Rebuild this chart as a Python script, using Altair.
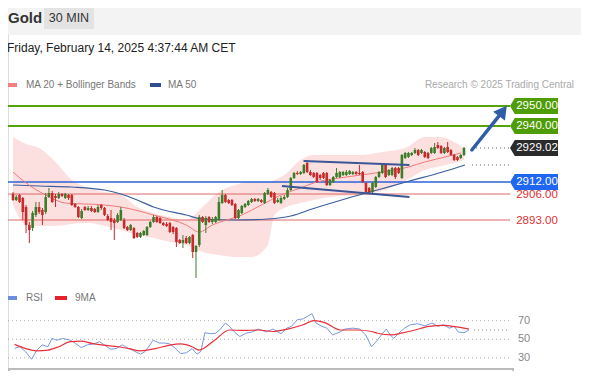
import altair as alt
import pandas as pd

FONT = "Liberation Sans"

# ---------------- candle data (30 min, Gold) ----------------
opens = [2906, 2903, 2905.5, 2904, 2899.5, 2890.5, 2889, 2895.5, 2899.5, 2898,
         2897, 2904.5, 2906.5, 2905, 2904, 2906, 2904, 2905.5, 2905.5, 2901,
         2899.5, 2894, 2899.5, 2898, 2899, 2898.5, 2897, 2900.5, 2899, 2895,
         2894, 2893, 2892, 2893, 2893, 2889.5, 2888, 2889, 2886.5, 2884.5,
         2885.5, 2885.5, 2889.5, 2892, 2894.5, 2894, 2891.5, 2891, 2891.5, 2889.5,
         2889, 2883, 2881.5, 2884, 2881.5, 2885.5, 2877, 2880.5, 2894.5, 2890.5,
         2894.5, 2892, 2892, 2893, 2901.5, 2905.5, 2903, 2903, 2901, 2894,
         2896.5, 2899.5, 2900.5, 2902, 2903.5, 2902.5, 2903, 2901.5, 2906, 2907,
         2906.5, 2902, 2901.5, 2903.5, 2904.5, 2908, 2914, 2916.5, 2916, 2916.5,
         2921.5, 2917, 2916.5, 2916.5, 2915.5, 2916.5, 2916.5, 2910.5, 2912, 2914.5,
         2914.5, 2915.5, 2915.5, 2916, 2916, 2917, 2916.5, 2917, 2911.5, 2909,
         2907, 2909.5, 2914.5, 2916.5, 2920.5, 2915.5, 2915.5, 2919, 2919, 2914,
         2924, 2924.5, 2925.5, 2926.5, 2928, 2926.5, 2927, 2926.5, 2926.5, 2926.5,
         2930.5, 2930, 2926.5, 2929.5, 2928, 2925.5, 2924.5, 2924, 2925.5]
closes = [2903, 2904.5, 2902, 2897, 2890.5, 2888, 2896.5, 2899.5, 2897, 2895.5,
          2904.5, 2906.5, 2902, 2904, 2906, 2905, 2906, 2904, 2900.5, 2899.5,
          2894.5, 2897.5, 2898, 2899, 2897.5, 2897, 2899.5, 2899, 2895.5, 2893,
          2892, 2891.5, 2895.5, 2898, 2889, 2888, 2890.5, 2884, 2884.5, 2886.5,
          2887.5, 2889.5, 2892, 2894.5, 2892, 2891.5, 2890.5, 2890, 2887, 2887,
          2882, 2881.5, 2883, 2881.5, 2884.5, 2877, 2880, 2894.5, 2892, 2894,
          2892, 2893.5, 2894.5, 2902, 2905.5, 2902, 2901.5, 2900.5, 2894, 2898,
          2900, 2901, 2902.5, 2903.5, 2902.5, 2903.5, 2902, 2906.5, 2908, 2904.5,
          2901.5, 2903, 2904, 2904.5, 2908, 2914, 2916.5, 2916, 2917, 2920.5,
          2917, 2915.5, 2914.5, 2912, 2914, 2914, 2910.5, 2913, 2914.5, 2916.5,
          2917, 2917, 2917, 2917.5, 2917, 2916, 2916, 2912, 2907, 2907,
          2911.5, 2914.5, 2917, 2920.5, 2914.5, 2918, 2919, 2914.5, 2916.5, 2925.5,
          2926.5, 2926.5, 2926.5, 2928, 2925.5, 2928, 2924.5, 2924, 2929, 2929.5,
          2929, 2926.5, 2929, 2927, 2925.5, 2923, 2923, 2925.5, 2929.02]
highs = [2907, 2905.5, 2906, 2904.5, 2900.5, 2892, 2897.5, 2902, 2902, 2899,
         2906.5, 2909, 2907.5, 2906, 2907, 2906.5, 2906.5, 2906, 2906, 2901.5,
         2900, 2898.5, 2900, 2900, 2900, 2899, 2900.5, 2901, 2899.5, 2896,
         2898, 2894, 2896.5, 2899.5, 2894, 2890, 2891, 2889.5, 2887, 2887,
         2888, 2890, 2892.5, 2895.5, 2895, 2894.5, 2892, 2892, 2892, 2890,
         2889.5, 2883.5, 2885.5, 2885, 2885, 2886, 2880.5, 2895.5, 2895, 2895,
         2895, 2894.5, 2895, 2904.5, 2908, 2906, 2903.5, 2903.5, 2901.5, 2898.5,
         2900.5, 2901.5, 2903, 2904, 2904, 2904, 2903.5, 2907, 2909, 2907.5,
         2907, 2904, 2905, 2905.5, 2909, 2914.5, 2917, 2917.5, 2917.5, 2921,
         2923, 2918, 2917, 2917, 2916, 2917, 2917, 2913.5, 2915, 2919,
         2917.5, 2917.5, 2918, 2918, 2917.5, 2917.5, 2920.5, 2917.5, 2912, 2909.5,
         2912, 2915, 2917.5, 2921.5, 2921, 2918.5, 2919.5, 2919.5, 2919.5, 2926,
         2927, 2927, 2927, 2929, 2928.5, 2928.5, 2927.5, 2927, 2929.5, 2931.5,
         2932, 2930.5, 2929.5, 2932, 2928.5, 2926, 2925, 2926, 2929.5]
lows = [2902.5, 2902.5, 2901.5, 2893, 2886.5, 2881.5, 2887.5, 2894.5, 2896, 2890.5,
        2896, 2904, 2901.5, 2899.5, 2903.5, 2904.5, 2903.5, 2903, 2900, 2899,
        2894, 2893.5, 2897.5, 2897.5, 2897, 2896.5, 2896.5, 2898, 2895, 2892.5,
        2888, 2883, 2891.5, 2892.5, 2888.5, 2887.5, 2887.5, 2883.5, 2884, 2884,
        2885, 2885, 2889, 2891.5, 2891.5, 2891, 2890, 2889.5, 2886.5, 2886,
        2879.5, 2881, 2879, 2881, 2881, 2874, 2864, 2879.5, 2891.5, 2886.5,
        2891.5, 2891, 2891.5, 2892.5, 2901, 2901.5, 2901, 2900, 2893.5, 2893.5,
        2896, 2899, 2900, 2901.5, 2902, 2902, 2901.5, 2901, 2905.5, 2904,
        2901, 2901.5, 2901, 2903, 2904, 2907.5, 2913.5, 2915.5, 2915.5, 2916,
        2916.5, 2915, 2914, 2911.5, 2913, 2913.5, 2910, 2910, 2911.5, 2914,
        2914, 2915, 2915, 2915.5, 2915.5, 2915.5, 2915.5, 2911.5, 2906.5, 2906,
        2906.5, 2909, 2914, 2916, 2914, 2915, 2915, 2913.5, 2916, 2913.5,
        2923.5, 2924, 2925, 2926, 2925, 2926, 2924, 2923.5, 2926, 2926,
        2928.5, 2926, 2926, 2926.5, 2925, 2922.5, 2922.5, 2923.5, 2925]

# ---------------- indicators ----------------
band_idx = [0, 4, 8, 13, 18, 23, 28, 33, 38, 43, 48, 53, 58, 63, 68, 73, 78, 80, 83,
            88, 92, 97, 100, 106, 113, 120, 126, 131, 135, 138]
band_upper = [2934.5, 2931, 2929, 2922, 2913, 2909, 2907, 2905.5, 2899.5, 2896.5,
              2894.5, 2893, 2899.5, 2907, 2910.5, 2912, 2912, 2913, 2915.5, 2923,
              2925.5, 2925.5, 2925.5, 2925.5, 2927, 2929, 2934.5, 2934.5, 2932, 2929]
band_lower = [2900.5, 2890.5, 2890, 2890, 2891, 2891.5, 2890, 2888, 2885.5, 2884,
              2882, 2880.5, 2877, 2875.5, 2874.5, 2874.5, 2880.5, 2895.5, 2899, 2901.5,
              2903, 2904.5, 2905, 2905.5, 2907.5, 2912.5, 2918, 2920, 2921.5, 2923]

ma20_idx = [0, 4, 10, 16, 28, 33, 43, 53, 57, 61, 70, 76, 82, 88, 92, 102, 111, 121, 126, 131, 137]
ma20_val = [2917, 2911.5, 2905.5, 2901.5, 2900.5, 2899.5, 2895.5, 2890.5, 2887, 2890.5,
            2895.5, 2900.5, 2905.5, 2909, 2911.5, 2914.5, 2916.5, 2919.5, 2922, 2924, 2926.5]

ma50_idx = [0, 8, 18, 28, 33, 38, 43, 53, 58, 68, 78, 85, 91.5, 101.6, 111.5, 121.3, 131.4, 138.3]
ma50_val = [2910.5, 2910, 2909.5, 2908, 2906, 2903, 2899.5, 2895.5, 2893.5, 2893,
            2893.5, 2895, 2898.5, 2903.5, 2908, 2912.5, 2917, 2920.5]

rsi_idx = [0.5, 2.1, 3.9, 5.7, 7.2, 8.9, 10.7, 11.9, 13.4, 15.2,
           17.6, 19.1, 20.9, 22.7, 24.7, 26.5, 28.3, 29.8, 31.6, 33.4,
           34.9, 37.3, 39, 40.5, 42.9, 44.7, 46.2, 48, 49.8, 51.3,
           53.1, 54.8, 56.3, 57.5, 58.7, 60.5, 62, 63.2, 65, 66.2,
           67.7, 69.4, 71.2, 73.3, 75.1, 77.5, 79.6, 82, 83.8, 85.2,
           87, 88.8, 90.3, 91.5, 92.7, 94.5, 96, 97.8, 100.1, 101.6,
           104, 106.1, 107.9, 109.7, 111.5, 113, 114.2, 115.4, 116.5, 118,
           119.8, 121.6, 123.7, 126.1, 128.2, 130, 131.7, 133.5, 135, 136.2,
           138, 139.5]
rsi_val = [40.2, 42, 36.5, 28.5, 38, 44, 42, 51, 49, 51,
           49, 45.6, 41, 44, 45, 47.5, 43, 39.5, 40, 44,
           41, 37, 34, 37, 49, 46, 46, 45, 40, 34.7,
           35.5, 40, 34, 37, 57, 56, 56.5, 60, 67.5, 64,
           58, 53, 56.5, 58, 61, 58, 61, 56, 62, 64,
           71, 72, 75, 77.6, 67.5, 64, 62, 54.7, 58, 61,
           62, 61, 54.7, 42, 49, 56, 61, 54.7, 51, 56.5,
           62, 65.6, 66.7, 64.5, 67.5, 64, 65.6, 62, 64, 58,
           57, 60]
ma9_idx = [0.5, 3.9, 7.2, 10.7, 14, 17.6, 20.9, 24.1, 27.7, 32.2,
           35.5, 39, 43.5, 48, 51.3, 54.8, 56.9, 61.7, 66.2, 70.6,
           75.1, 79.6, 84, 88.8, 92.1, 95.4, 100.1, 105.5, 109.7, 111.5,
           115.9, 119.2, 122.5, 127.3, 131.7, 136.2, 139.5]
ma9_val = [44.5, 40, 37.6, 38.4, 42, 47.5, 48, 45.6, 43.8, 42,
           40, 37.6, 40, 43.8, 45, 42, 38.4, 49, 60, 59.5,
           60, 58.4, 61, 65.6, 70, 68, 60, 60, 58.4, 56.5,
           54.7, 57, 59.5, 63.8, 65, 63, 61]

# key levels
res_levels = [2950.00, 2940.00]
last_price = 2929.02
ma50_last = 2920.5
pivot_level = 2912.00
sup_levels = [2906.00, 2893.00]
rsi_levels = [70, 50, 30]
rsi_last = 60

# channel trend lines (idx, price)
chan_top = [(88.9, 2922.5), (121.3, 2920.5)]
chan_bot = [(82.3, 2910.0), (121.3, 2904.5)]
arrow_pts = [(140.4, 2928.0), (148.6, 2944.8)]
arrow_head = (149.9, 2947.5)

day_labels = ["Feb 12", "Feb 13", "Feb 14"]
day_label_x = [86, 260, 435]

# ---------------- scales ----------------
XS = alt.Scale(domain=[0, 138], range=[0, 461])
PY = alt.Scale(domain=[2860, 2960], range=[278, 78])
RY = alt.Scale(domain=[20, 80], range=[359.2, 303.4])

GREEN_C = "#3b7d2a"
RED_C = "#c62a2a"

candles = pd.DataFrame({"i": list(range(len(opens))), "o": opens, "h": highs, "l": lows, "c": closes})
candles["dir"] = ["up" if c >= o else "down" for o, c in zip(opens, closes)]
cscale = alt.Scale(domain=["up", "down"], range=[GREEN_C, RED_C])

one = pd.DataFrame({"a": [0]})


def txt(s, x, y, size, color, weight="normal", align="left", baseline="middle"):
    return alt.Chart(one).mark_text(text=s, align=align, baseline=baseline, fontSize=size,
                                    color=color, fontWeight=weight, font=FONT).encode(
        x=alt.value(x), y=alt.value(y))


def rect(x0, x1, y0, y1, color):
    return alt.Chart(one).mark_rect(color=color).encode(
        x=alt.value(x0), x2=alt.value(x1), y=alt.value(y0), y2=alt.value(y1))


layers = []

# header
layers.append(rect(0, 573, 0, 27, "#f3f3f3"))
layers.append(rect(36, 86, 0, 21, "#e3e3e3"))
layers.append(txt("Gold", 0, 10, 15, "#333333", weight="bold"))
layers.append(txt("30 MIN", 61, 10, 12.5, "#333333", align="center"))
layers.append(txt("Friday, February 14, 2025 4:37:44 AM CET", -1, 40, 12, "#222222"))

# legend (price)
layers.append(rect(0, 9, 75, 79, "#f28080"))
layers.append(txt("MA 20 + Bollinger Bands", 18, 77, 10, "#777777"))
layers.append(rect(142, 153, 75, 79, "#2f4f8f"))
layers.append(txt("MA 50", 160, 77, 10, "#777777"))
layers.append(txt("Research © 2025 Trading Central", 566, 77, 10, "#aaaaaa", align="right"))

# Bollinger band area
band_df = pd.DataFrame({"i": band_idx, "u": band_upper, "lo": band_lower})
layers.append(alt.Chart(band_df).mark_area(color="#f9c6c6", opacity=0.55, interpolate="monotone").encode(
    x=alt.X("i:Q", scale=XS, axis=None), y=alt.Y("u:Q", scale=PY, axis=None), y2="lo:Q"))

# level lines
lev_df = pd.DataFrame({"p": res_levels})
layers.append(alt.Chart(lev_df).mark_rule(color="#55a20f", strokeWidth=2).encode(
    y=alt.Y("p:Q", scale=PY, axis=None), x=alt.value(0), x2=alt.value(502)))
layers.append(alt.Chart(pd.DataFrame({"p": [pivot_level]})).mark_rule(color="#2a62d9", strokeWidth=1.5).encode(
    y=alt.Y("p:Q", scale=PY, axis=None), x=alt.value(0), x2=alt.value(502)))
layers.append(alt.Chart(pd.DataFrame({"p": sup_levels})).mark_rule(color="#e06666", strokeWidth=1).encode(
    y=alt.Y("p:Q", scale=PY, axis=None), x=alt.value(0), x2=alt.value(502)))
layers.append(alt.Chart(pd.DataFrame({"p": [last_price, ma50_last]})).mark_rule(
    color="#666666", strokeWidth=1, strokeDash=[1, 3]).encode(
    y=alt.Y("p:Q", scale=PY, axis=None), x=alt.value(464), x2=alt.value(502)))

# moving averages
layers.append(alt.Chart(pd.DataFrame({"i": ma50_idx, "v": ma50_val})).mark_line(
    color="#3d5f9e", strokeWidth=1.2, interpolate="monotone").encode(
    x=alt.X("i:Q", scale=XS, axis=None), y=alt.Y("v:Q", scale=PY, axis=None)))
layers.append(alt.Chart(pd.DataFrame({"i": ma20_idx, "v": ma20_val})).mark_line(
    color="#f07a7a", strokeWidth=1, interpolate="monotone").encode(
    x=alt.X("i:Q", scale=XS, axis=None), y=alt.Y("v:Q", scale=PY, axis=None)))

# candles
layers.append(alt.Chart(candles).mark_rule(strokeWidth=1).encode(
    x=alt.X("i:Q", scale=XS, axis=None), y=alt.Y("l:Q", scale=PY, axis=None), y2="h:Q",
    color=alt.Color("dir:N", scale=cscale, legend=None)))
layers.append(alt.Chart(candles).mark_bar(size=2.6).encode(
    x=alt.X("i:Q", scale=XS, axis=None), y=alt.Y("o:Q", scale=PY, axis=None), y2="c:Q",
    color=alt.Color("dir:N", scale=cscale, legend=None)))

# channel lines
chan_df = pd.DataFrame({"i": [p[0] for p in chan_top] + [p[0] for p in chan_bot],
                        "p": [p[1] for p in chan_top] + [p[1] for p in chan_bot],
                        "g": ["top", "top", "bot", "bot"]})
layers.append(alt.Chart(chan_df).mark_line(color="#3a5696", strokeWidth=2.2).encode(
    x=alt.X("i:Q", scale=XS, axis=None), y=alt.Y("p:Q", scale=PY, axis=None), detail="g:N"))

# arrow
arr_df = pd.DataFrame({"i": [p[0] for p in arrow_pts], "p": [p[1] for p in arrow_pts]})
layers.append(alt.Chart(arr_df).mark_line(color="#2f5ea8", strokeWidth=3.5, strokeCap="round").encode(
    x=alt.X("i:Q", scale=XS, axis=None), y=alt.Y("p:Q", scale=PY, axis=None)))
layers.append(alt.Chart(pd.DataFrame({"i": [arrow_head[0]], "p": [arrow_head[1]]})).mark_point(
    shape="triangle-up", filled=True, size=220, angle=37, color="#2f5ea8", opacity=1).encode(
    x=alt.X("i:Q", scale=XS, axis=None), y=alt.Y("p:Q", scale=PY, axis=None)))

# price labels
TAG = "M-1,0L-0.8,-0.33L1,-0.33L1,0.33L-0.8,0.33Z"
tags = [(res_levels[0], "#4e9c06"), (res_levels[1], "#4e9c06"), (last_price, "#2b2b2b"), (pivot_level, "#1f66f0")]
for price, col in tags:
    d = pd.DataFrame({"p": [price], "t": [f"{price:.2f}"]})
    layers.append(alt.Chart(d).mark_point(shape=TAG, filled=True, size=2304, color=col, opacity=1,
                                          strokeWidth=0).encode(
        x=alt.value(526), y=alt.Y("p:Q", scale=PY, axis=None)))
    layers.append(alt.Chart(d).mark_text(color="white", fontSize=11.5, font=FONT, align="center",
                                         baseline="middle").encode(
        x=alt.value(529), y=alt.Y("p:Q", scale=PY, axis=None), text="t:N"))
sup_df = pd.DataFrame({"p": sup_levels, "t": [f"{v:.2f}" for v in sup_levels]})
layers.append(alt.Chart(sup_df).mark_text(color="#e03030", fontSize=11.5, font=FONT, align="center",
                                          baseline="middle", dy=1).encode(
    x=alt.value(529), y=alt.Y("p:Q", scale=PY, axis=None), text="t:N"))

# RSI panel
layers.append(rect(0, 9, 288, 292, "#6b8ee0"))
layers.append(txt("RSI", 18, 290, 10, "#777777"))
layers.append(rect(47, 59, 288, 292, "#e8202a"))
layers.append(txt("9MA", 67, 290, 10, "#777777"))
rl_df = pd.DataFrame({"r": rsi_levels, "t": [str(v) for v in rsi_levels]})
layers.append(alt.Chart(rl_df).mark_rule(color="#b0b0b0", strokeWidth=1, strokeDash=[1, 3]).encode(
    y=alt.Y("r:Q", scale=RY, axis=None), x=alt.value(0), x2=alt.value(502)))
layers.append(alt.Chart(pd.DataFrame({"r": [rsi_last]})).mark_rule(color="#888888", strokeWidth=1, strokeDash=[1, 3]).encode(
    y=alt.Y("r:Q", scale=RY, axis=None), x=alt.value(466), x2=alt.value(502)))
layers.append(alt.Chart(rl_df).mark_text(color="#888888", fontSize=11, font=FONT, align="left",
                                         baseline="middle").encode(
    y=alt.Y("r:Q", scale=RY, axis=None), x=alt.value(510), text="t:N"))
layers.append(alt.Chart(pd.DataFrame({"i": rsi_idx, "v": rsi_val})).mark_line(
    color="#7b96e0", strokeWidth=1).encode(
    x=alt.X("i:Q", scale=XS, axis=None), y=alt.Y("v:Q", scale=RY, axis=None)))
layers.append(alt.Chart(pd.DataFrame({"i": ma9_idx, "v": ma9_val})).mark_line(
    color="#e8303a", strokeWidth=1.2, interpolate="monotone").encode(
    x=alt.X("i:Q", scale=XS, axis=None), y=alt.Y("v:Q", scale=RY, axis=None)))

# bottom frame + date labels
layers.append(alt.Chart(one).mark_rule(color="#bbbbbb", strokeWidth=2).encode(
    x=alt.value(0), x2=alt.value(506), y=alt.value(361)))
layers.append(alt.Chart(one).mark_rule(color="#bbbbbb", strokeWidth=2).encode(
    x=alt.value(1), y=alt.value(361), y2=alt.value(366)))
layers.append(alt.Chart(one).mark_rule(color="#bbbbbb", strokeWidth=2).encode(
    x=alt.value(505), y=alt.value(361), y2=alt.value(366)))
for lab, lx in zip(day_labels, day_label_x):
    layers.append(txt(lab, lx, 368, 11, "#555555", align="center", baseline="top"))

chart = alt.layer(*layers).resolve_scale(y="independent", x="shared").properties(
    width=573, height=363, padding=0, autosize=alt.AutoSizeParams(type="none")
).configure_view(stroke=None).configure(background="white")

chart.save("out.html", embed_options={"renderer": "svg", "actions": False})
